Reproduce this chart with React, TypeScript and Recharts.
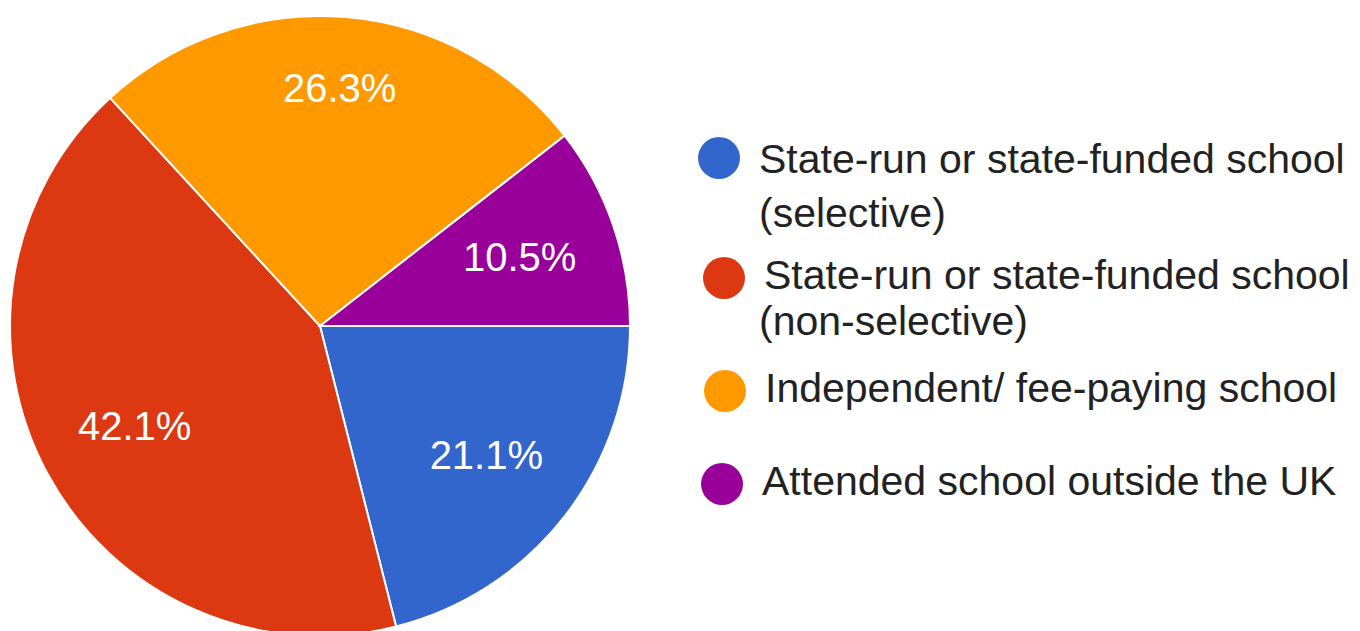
import { Legend, Pie, PieChart, Cell } from 'recharts'

const categories = [
  'State-run or state-funded school (selective)',
  'State-run or state-funded school (non-selective)',
  'Independent/ fee-paying school',
  'Attended school outside the UK',
]
const legendLines = [
  ['State-run or state-funded school', '(selective)'],
  ['State-run or state-funded school', '(non-selective)'],
  ['Independent/ fee-paying school'],
  ['Attended school outside the UK'],
]
const responses = [4, 8, 5, 2]
const colors = ['#3366cc', '#dc3912', '#ff9900', '#990099']

const data = categories.map((name, i) => ({ name, value: responses[i] }))

const FONT = '"Liberation Sans", Arial, sans-serif'
const RAD = Math.PI / 180

function renderLabel(props: any) {
  const { cx, cy, midAngle, outerRadius, percent } = props
  const s = Math.sin(midAngle * RAD)
  const r = outerRadius * (0.68 + 0.09 * Math.pow(Math.max(s, 0), 4))
  const x = cx + r * Math.cos(-midAngle * RAD)
  const y = cy + r * Math.sin(-midAngle * RAD)
  return (
    <text
      x={x}
      y={y}
      fill="#fff"
      textAnchor="middle"
      dominantBaseline="central"
      style={{ fontSize: 40, fontFamily: FONT }}
    >
      {`${(percent * 100).toFixed(1)}%`}
    </text>
  )
}

// legend layout: first-line centre and small x shift of each entry
const itemTops = [158, 278, 391, 484]
const itemShift = [0, 5, 6, 3]

function LegendContent() {
  return (
    <div style={{ position: 'relative', width: 670, height: 631, fontFamily: FONT, color: '#222' }}>
      {legendLines.map((lines, i) => (
        <div key={i} style={{ position: 'absolute', left: itemShift[i], top: itemTops[i] - 21 }}>
          <div style={{ position: 'absolute', left: 8, top: 0, width: 42, height: 42, borderRadius: '50%', background: colors[i] }} />
          <div style={{ position: 'absolute', left: 69, top: -5, fontSize: 41, lineHeight: i === 0 ? '54px' : '46px', whiteSpace: 'nowrap' }}>
            {lines.map((t, j) => (
              <div key={t} style={{ marginLeft: j > 0 ? -itemShift[i] : 0 }}>{t}</div>
            ))}
          </div>
        </div>
      ))}
    </div>
  )
}

export default function App() {
  return (
    <div style={{ position: 'absolute', left: 0, top: 0, background: '#fff' }}>
      <PieChart width={1360} height={631} margin={{ top: 0, right: 0, bottom: 0, left: 0 }}>
        <Pie
          data={data}
          dataKey="value"
          nameKey="name"
          cx={320}
          cy={326}
          outerRadius={310}
          startAngle={0}
          endAngle={-360}
          stroke="#fff"
          strokeWidth={2}
          label={renderLabel}
          labelLine={false}
          isAnimationActive={false}
        >
          {data.map((d, i) => (
            <Cell key={d.name} fill={colors[i]} />
          ))}
        </Pie>
        <Legend
          layout="vertical"
          align="right"
          verticalAlign="top"
          content={<LegendContent />}
          wrapperStyle={{ left: 690, top: 0, width: 670, height: 631 }}
        />
      </PieChart>
    </div>
  )
}
